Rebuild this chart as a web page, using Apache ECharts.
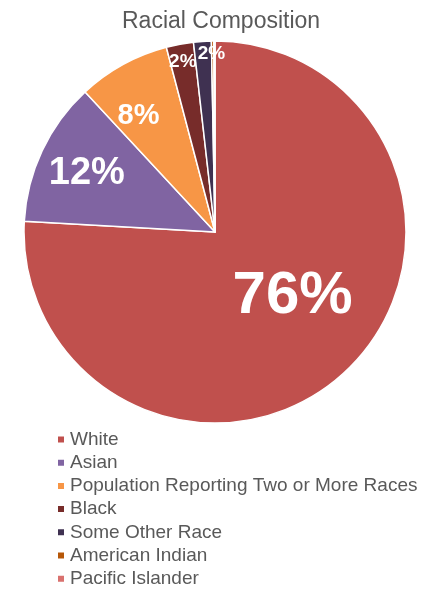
<!DOCTYPE html>
<html>
<head>
<meta charset="utf-8">
<script src="https://cdn.jsdelivr.net/npm/echarts@6/dist/echarts.min.js"></script>
<style>
html,body{margin:0;padding:0;background:#fff;}
#chart{width:427px;height:591px;}
</style>
</head>
<body>
<div id="chart"></div>
<script>
const titleText = 'Racial Composition';
const categories = ['White', 'Asian', 'Population Reporting Two or More Races', 'Black', 'Some Other Race', 'American Indian', 'Pacific Islander'];
const values = [75.9, 12.2, 7.8, 2.3, 1.5, 0.2, 0.1];

const colors = ['#C0504D', '#8064A2', '#F79646', '#772C2A', '#3F3151', '#B65708', '#D9716E'];
const labelCfg = [
  { fontSize: 60, offset: [10, -7] },
  { fontSize: 38, offset: [-39, -17] },
  { fontSize: 29, offset: [-29, -30] },
  { fontSize: 19, offset: [-14, -73] },
  { fontSize: 19, offset: [3, -80] },
  { show: false },
  { show: false }
];

const data = categories.map((name, i) => ({
  name: name,
  value: values[i],
  itemStyle: { color: colors[i] },
  label: labelCfg[i]
}));

const chart = echarts.init(document.getElementById('chart'), null, { renderer: 'canvas' });
chart.setOption({
  animation: false,
  title: {
    text: titleText,
    left: 117,
    top: 5,
    textStyle: { fontFamily: '"Liberation Sans", Arial, sans-serif', fontSize: 23, fontWeight: 'normal', color: '#595959' }
  },
  legend: {
    orient: 'vertical',
    left: 56,
    top: 430,
    padding: 0,
    icon: 'rect',
    itemWidth: 8,
    itemHeight: 8,
    itemGap: 4.2,
    data: categories,
    textStyle: { fontFamily: '"Liberation Sans", Arial, sans-serif', fontSize: 19, lineHeight: 19, color: '#595959' }
  },
  series: [{
    type: 'pie',
    center: [215, 232],
    radius: [0, 191],
    startAngle: 90,
    clockwise: true,
    avoidLabelOverlap: false,
    labelLayout: { hideOverlap: false },
    itemStyle: { borderColor: '#ffffff', borderWidth: 1.5 },
    label: {
      show: true,
      position: 'inside',
      color: '#ffffff',
      fontWeight: 'bold',
      fontFamily: '"Liberation Sans", Arial, sans-serif',
      formatter: p => Math.round(p.percent) + '%'
    },
    labelLine: { show: false },
    emphasis: { disabled: true },
    data: data
  }]
});
</script>
</body>
</html>
